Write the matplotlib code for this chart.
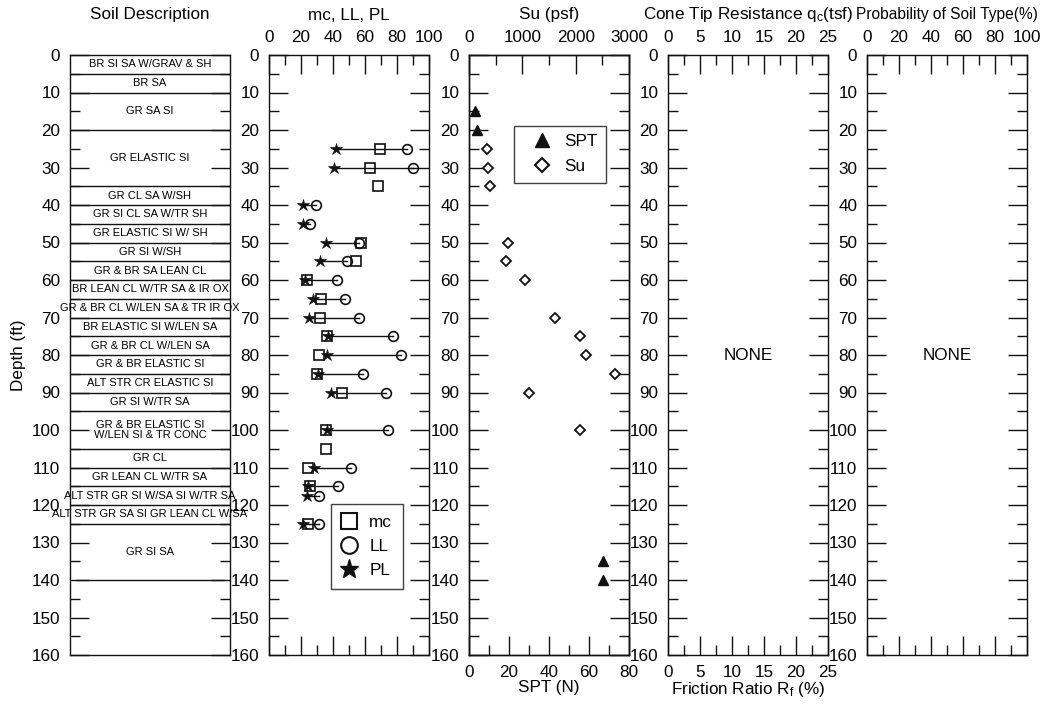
import numpy as np
import matplotlib
matplotlib.use("Agg")
import matplotlib.pyplot as plt
from matplotlib.lines import Line2D
from matplotlib.ticker import MultipleLocator

plt.rcParams["font.family"] = ["Liberation Sans", "DejaVu Sans"]
plt.rcParams["font.size"] = 12.3
plt.rcParams["mathtext.fontset"] = "custom"
plt.rcParams["mathtext.rm"] = "Liberation Sans"
plt.rcParams["mathtext.default"] = "regular"

# ---- soil layers (top, bottom in ft) ----
layer_top = [0, 5, 10, 20, 35, 40, 45, 50, 55, 60, 65, 70, 75, 80, 85, 90, 95,
             105, 110, 115, 120, 125]
layer_bot = [5, 10, 20, 35, 40, 45, 50, 55, 60, 65, 70, 75, 80, 85, 90, 95, 105,
             110, 115, 120, 125, 140]
layer_desc = [
    "BR SI SA W/GRAV & SH", "BR SA", "GR SA SI", "GR ELASTIC SI",
    "GR CL SA W/SH", "GR SI CL SA W/TR SH", "GR ELASTIC SI W/ SH",
    "GR SI W/SH", "GR & BR SA LEAN CL", "BR LEAN CL W/TR SA & IR OX",
    "GR & BR CL W/LEN SA & TR IR OX", "BR ELASTIC SI W/LEN SA",
    "GR & BR CL W/LEN SA", "GR & BR ELASTIC SI", "ALT STR CR ELASTIC SI",
    "GR SI W/TR SA", "GR & BR ELASTIC SI\nW/LEN SI & TR CONC", "GR CL",
    "GR LEAN CL W/TR SA", "ALT STR GR SI W/SA SI W/TR SA",
    "ALT STR GR SA SI GR LEAN CL W/SA", "GR SI SA",
]

# ---- moisture content and Atterberg limits ----
atb_depth = [25, 30, 35, 40, 45, 50, 55, 60, 65, 70, 75, 80, 85, 90, 100, 105,
             110, 115, 117.5, 125]
mc = [69.4, 63.1, 68.3, np.nan, np.nan, 57.3, 54.4, 23.5, 32.5, 32.1, 36.5,
      31.3, 30.2, 45.4, 35.4, 35.4, 24.2, 25.6, np.nan, 24.6]
ll = [86.5, 89.8, np.nan, 29.4, 25.6, 56.5, 49.0, 42.5, 47.5, 56.5, 77.3,
      82.5, 58.5, 72.9, 74.2, np.nan, 51.3, 42.9, 31.3, 31.3]
pl = [41.7, 40.4, np.nan, 21.5, 21.0, 35.4, 31.9, 22.5, 27.3, 25.2, 36.9,
      36.0, 30.6, 39.0, 36.0, np.nan, 28.1, 24.2, 23.5, 21.5]

# ---- strength data ----
su_depth = [25, 30, 35, 50, 55, 60, 70, 75, 80, 85, 90, 100]
su_psf = [330, 350, 400, 740, 690, 1050, 1610, 2090, 2200, 2730, 1120, 2090]
spt_depth = [15, 20, 135, 140]
spt_n = [3, 4, 67, 67]

W, H = 1045, 705
fig = plt.figure(figsize=(W / 100, H / 100), dpi=100)
left_px = [70, 269, 469, 668, 867]
axes = [fig.add_axes([l / W, 50 / H, 160 / W, 600 / H]) for l in left_px]
ink = "#111111"
fs = 12.3


def depth_frame(ax):
    ax.set_ylim(160, 0)
    ax.yaxis.set_major_locator(MultipleLocator(10))
    ax.yaxis.set_minor_locator(MultipleLocator(5))
    ax.tick_params(axis="y", which="both", direction="in", left=True,
                   right=True, labelleft=True, labelright=False, pad=7)
    ax.tick_params(which="major", length=14, width=1, color=ink)
    ax.tick_params(which="minor", length=7, width=1, color=ink)
    for s in ax.spines.values():
        s.set_linewidth(1.0)
        s.set_color(ink)


def x_frame(ax, lim, major, minor, top=True, bottom=True, ltop=True,
            lbottom=False):
    ax.set_xlim(*lim)
    ax.xaxis.set_major_locator(MultipleLocator(major))
    ax.xaxis.set_minor_locator(MultipleLocator(minor))
    ax.tick_params(axis="x", which="both", direction="in", top=top,
                   bottom=bottom, labeltop=ltop, labelbottom=lbottom, pad=7.5)


def title(ax, text, size=fs):
    ax.text(0.5, 1 + 40 / 600, text, transform=ax.transAxes, ha="center",
            va="center", fontsize=size)


# ---- panel 1: soil description ----
ax1 = axes[0]
depth_frame(ax1)
ax1.set_xlim(0, 1)
ax1.tick_params(axis="x", which="both", top=False, bottom=False,
                labelbottom=False, labeltop=False)
ax1.set_ylabel("Depth (ft)", fontsize=fs, labelpad=4)
title(ax1, "Soil Description")
for t, b, d in zip(layer_top, layer_bot, layer_desc):
    if t > 0:
        ax1.axhline(t, color=ink, lw=1)
    ax1.text(0.5, (t + b) / 2, d, ha="center", va="center", fontsize=8,
             linespacing=1.0, clip_on=False)
ax1.hlines(layer_bot[-1], 0.04, 0.96, color=ink, lw=1)

# ---- panel 2: mc, LL, PL ----
ax2 = axes[1]
depth_frame(ax2)
x_frame(ax2, (0, 100), 20, 10)
title(ax2, "mc, LL, PL")
for d, a, b in zip(atb_depth, pl, ll):
    if not (np.isnan(a) or np.isnan(b)):
        ax2.plot([min(a, b), max(a, b)], [d, d], color=ink, lw=1, zorder=2)
ax2.plot(mc, atb_depth, ls="none", marker="s", ms=7, mfc="none", mec=ink,
         mew=1.2, zorder=3)
ax2.plot(ll, atb_depth, ls="none", marker="o", ms=7, mfc="none", mec=ink,
         mew=1.2, zorder=3)
ax2.plot(pl, atb_depth, ls="none", marker="*", ms=9, mfc=ink, mec=ink,
         mew=0.5, zorder=4)
h2 = [Line2D([], [], ls="none", marker="s", ms=11, mfc="none", mec=ink, mew=1.5),
      Line2D([], [], ls="none", marker="o", ms=12, mfc="none", mec=ink, mew=1.5),
      Line2D([], [], ls="none", marker="*", ms=14, mfc=ink, mec=ink)]
leg2 = ax2.legend(h2, ["mc", "LL", "PL"], loc="upper left",
                  bbox_to_anchor=(0.386, 0.2517), fontsize=fs,
                  frameon=True, fancybox=False, edgecolor=ink,
                  borderpad=0.65, labelspacing=0.53, handlelength=0.8,
                  handletextpad=0.8, borderaxespad=0)
leg2.get_frame().set_linewidth(1.0)

# ---- panel 3: SPT (bottom) and Su (top) ----
ax3 = axes[2]
depth_frame(ax3)
x_frame(ax3, (0, 80), 20, 10, top=False, bottom=True, ltop=False,
        lbottom=True)
ax3.set_xlabel("SPT (N)", fontsize=fs, labelpad=0)
ax3t = ax3.twiny()
ax3t.set_xlim(0, 3000)
ax3t.xaxis.set_major_locator(MultipleLocator(1000))
ax3t.xaxis.set_minor_locator(MultipleLocator(500))
ax3t.tick_params(axis="x", which="both", direction="in", top=True,
                 bottom=False, labeltop=True, labelbottom=False, pad=7.5,
                 color=ink)
ax3t.tick_params(which="major", length=14, width=1)
ax3t.tick_params(which="minor", length=7, width=1)
for s in ax3t.spines.values():
    s.set_linewidth(1.0)
    s.set_color(ink)
title(ax3t, "Su (psf)")
ax3.plot(spt_n, spt_depth, ls="none", marker="^", ms=7, mfc=ink, mec=ink,
         clip_on=False, zorder=3)
ax3t.plot(su_psf, su_depth, ls="none", marker="D", ms=5, mfc="white",
          mec=ink, mew=1.3, zorder=3)
h3 = [Line2D([], [], ls="none", marker="^", ms=10, mfc=ink, mec=ink),
      Line2D([], [], ls="none", marker="D", ms=7.5, mfc="white", mec=ink,
             mew=1.5)]
leg3 = ax3t.legend(h3, ["SPT", "Su"], loc="upper left",
                   bbox_to_anchor=(0.283, 0.882), fontsize=fs,
                   frameon=True, fancybox=False, edgecolor=ink,
                   borderpad=0.5, labelspacing=0.59, handlelength=2.2,
                   handletextpad=0.2, borderaxespad=0)
leg3.get_frame().set_linewidth(1.0)

# ---- panel 4: cone tip resistance / friction ratio ----
ax4 = axes[3]
depth_frame(ax4)
x_frame(ax4, (0, 25), 5, 2.5, ltop=True, lbottom=True)
ax4.set_xlabel("Friction Ratio R$_f$ (%)", fontsize=fs, labelpad=0)
title(ax4, "Cone Tip Resistance q$_c$(tsf)")
ax4.text(12.5, 80, "NONE", ha="center", va="center", fontsize=fs)

# ---- panel 5: probability of soil type ----
ax5 = axes[4]
depth_frame(ax5)
x_frame(ax5, (0, 100), 20, 10)
title(ax5, "Probability of Soil Type(%)", size=11.2)
ax5.text(50, 80, "NONE", ha="center", va="center", fontsize=fs)

fig.savefig("out.png", dpi=100)
